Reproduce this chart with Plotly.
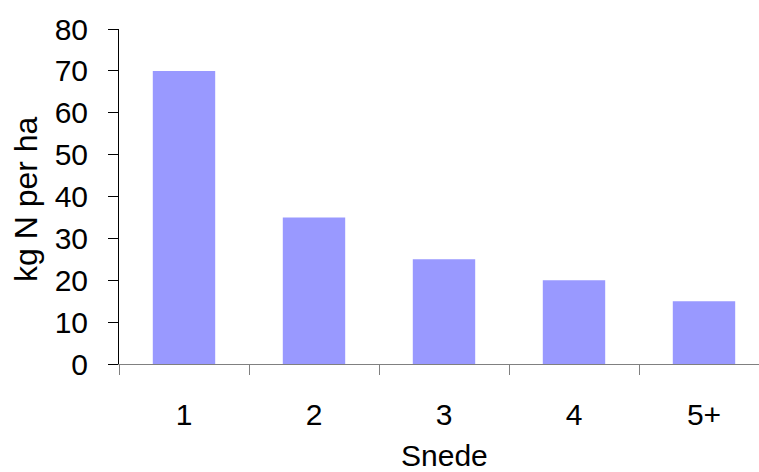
import plotly.graph_objects as go

# Nitrogen per cut
snede = ["1", "2", "3", "4", "5+"]
kg_n_per_ha = [70, 35, 25, 20, 15]
y_ticks = [0, 10, 20, 30, 40, 50, 60, 70, 80]

FONT = "Liberation Sans, Arial, sans-serif"

fig = go.Figure(
    go.Bar(
        x=snede,
        y=kg_n_per_ha,
        width=0.48,
        marker=dict(color="#9999FF", line=dict(width=0)),
    )
)

W, H = 759, 472
L, R, T, B = 119, 0, 29, 108
cat_px = 130.0
plot_w = W - L - R

fig.update_layout(
    width=W,
    height=H,
    margin=dict(l=L, r=R, t=T, b=B, pad=0),
    paper_bgcolor="white",
    plot_bgcolor="white",
    showlegend=False,
    font=dict(family=FONT, size=30, color="black"),
    xaxis=dict(
        type="category",
        range=[-0.5, -0.5 + plot_w / cat_px],
        showline=True,
        linecolor="#808080",
        linewidth=1,
        ticks="outside",
        tickson="boundaries",
        ticklen=10,
        tickcolor="#808080",
        tickwidth=1,
        showgrid=False,
        zeroline=False,
        ticklabelstandoff=24,
        tickfont=dict(family=FONT, size=30, color="black"),
    ),
    yaxis=dict(
        range=[0, 80],
        tickvals=y_ticks,
        showline=True,
        linecolor="black",
        linewidth=1,
        ticks="outside",
        ticklen=10,
        tickcolor="black",
        tickwidth=1,
        showgrid=False,
        zeroline=False,
        ticklabelstandoff=14,
        tickfont=dict(family=FONT, size=30, color="black"),
    ),
    annotations=[
        dict(
            text="Snede",
            xref="paper", yref="paper",
            x=(444 - L) / plot_w, y=(364 - 455) / (H - T - B),
            xanchor="center", yanchor="middle",
            showarrow=False,
            font=dict(family=FONT, size=30, color="black"),
        ),
        dict(
            text="kg N per ha",
            xref="paper", yref="paper",
            x=(26 - L) / plot_w, y=(364 - 199) / (H - T - B),
            xanchor="center", yanchor="middle",
            textangle=-90,
            showarrow=False,
            font=dict(family=FONT, size=32, color="black"),
        ),
    ],
)

fig.write_html("out.html")
